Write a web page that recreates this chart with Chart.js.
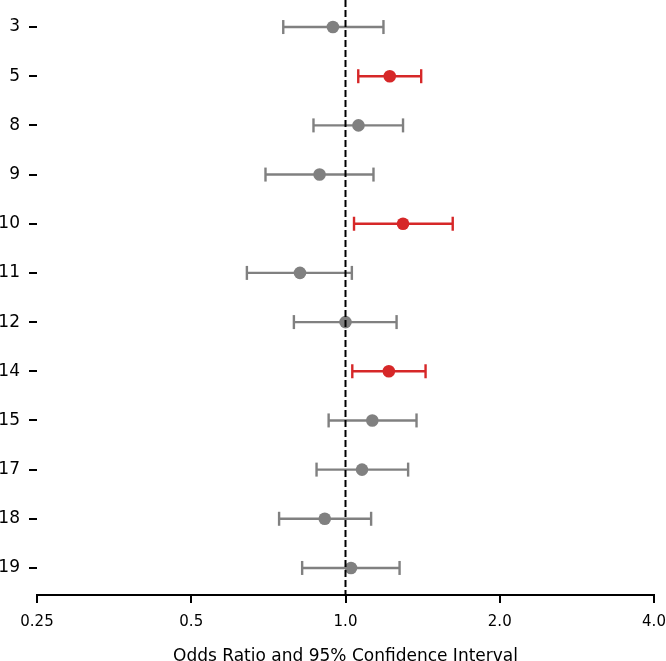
<!DOCTYPE html>
<html>
<head>
<meta charset="utf-8">
<script src="https://cdn.jsdelivr.net/npm/chart.js@4.4.1/dist/chart.umd.min.js"></script>
<style>
  body { margin: 0; background: #fff; }
</style>
</head>
<body>
<canvas id="forest" width="666" height="661"></canvas>
<script>
// Data
const categories = ['3', '5', '8', '9', '10', '11', '12', '14', '15', '17', '18', '19'];
const oddsRatio = [0.945, 1.22, 1.06, 0.89, 1.295, 0.815, 1.0, 1.215, 1.128, 1.077, 0.911, 1.025];
const ciLow = [0.756, 1.059, 0.866, 0.698, 1.039, 0.642, 0.793, 1.031, 0.927, 0.878, 0.742, 0.823];
const ciHigh = [1.186, 1.405, 1.295, 1.134, 1.619, 1.029, 1.258, 1.433, 1.376, 1.325, 1.122, 1.275];
const xTickValues = [0.25, 0.5, 1, 2, 4];
const xTickLabels = ['0.25', '0.5', '1.0', '2.0', '4.0'];

const FONT = "'DejaVu Sans', sans-serif";
// significant rows (CI entirely above 1) in red
const colors = ciLow.map(lo => lo > 1 ? '#d62728' : '#808080');

// Reference line at OR = 1
const refLine = {
    type: 'line',
    data: [{ x: 1, y: -0.55 }, { x: 1, y: 11.55 }],
    borderColor: '#000',
    borderWidth: 2,
    borderDash: [7, 3],
    pointRadius: 0
};

// Points
const dots = {
    type: 'scatter',
    data: oddsRatio.map((v, i) => ({ x: v, y: i })),
    pointRadius: 6.3,
    pointHoverRadius: 6.3,
    backgroundColor: colors,
    borderWidth: 0
};

// Error bars, one per row
const bars = categories.map((c, i) => ({
    type: 'line',
    data: [{ x: ciLow[i], y: i }, { x: ciHigh[i], y: i }],
    borderColor: colors[i],
    borderWidth: 2.4,
    pointStyle: 'line',
    pointRotation: 90,
    pointRadius: 7,
    pointBorderWidth: 2.4,
    pointBorderColor: colors[i]
}));

const ctx = document.getElementById('forest').getContext('2d');
new Chart(ctx, {
    data: { datasets: [refLine, dots, ...bars] },
    options: {
        responsive: false,
        animation: false,
        layout: { autoPadding: false, padding: { top: 0, right: 12, left: 0, bottom: 0 } },
        plugins: { legend: { display: false }, tooltip: { enabled: false } },
        scales: {
            x: {
                type: 'logarithmic',
                position: 'bottom',
                min: 0.25,
                max: 4,
                afterBuildTicks: scale => {
                    scale.ticks = xTickValues.map(v => ({ value: v }));
                },
                afterFit: scale => {
                    scale.height = 66;
                    scale.paddingLeft = 0;
                    scale.paddingRight = 0;
                },
                border: { display: true, color: '#000', width: 2 },
                grid: {
                    drawOnChartArea: false,
                    drawTicks: true,
                    tickLength: 8,
                    tickWidth: 2,
                    lineWidth: 2,
                    tickColor: '#000'
                },
                ticks: {
                    color: '#000',
                    font: { family: FONT, size: 15 },
                    padding: 10,
                    maxRotation: 0,
                    autoSkip: false,
                    callback: (v, i) => xTickLabels[i]
                },
                title: {
                    display: true,
                    text: 'Odds Ratio and 95% Confidence Interval',
                    color: '#000',
                    font: { family: FONT, size: 17 },
                    padding: { top: 0, bottom: -6 }
                }
            },
            y: {
                type: 'linear',
                reverse: true,
                min: -0.55,
                max: 11.55,
                afterBuildTicks: scale => {
                    scale.ticks = categories.map((c, i) => ({ value: i }));
                },
                afterFit: scale => {
                    scale.width = 37;
                    scale.paddingTop = 0;
                    scale.paddingBottom = 0;
                },
                border: { display: false },
                grid: {
                    drawOnChartArea: false,
                    drawTicks: true,
                    tickLength: 8,
                    tickWidth: 2,
                    lineWidth: 2,
                    tickColor: '#000'
                },
                ticks: {
                    color: '#000',
                    font: { family: FONT, size: 17 },
                    padding: 9,
                    autoSkip: false,
                    callback: v => categories[v]
                }
            }
        }
    }
});
</script>
</body>
</html>
